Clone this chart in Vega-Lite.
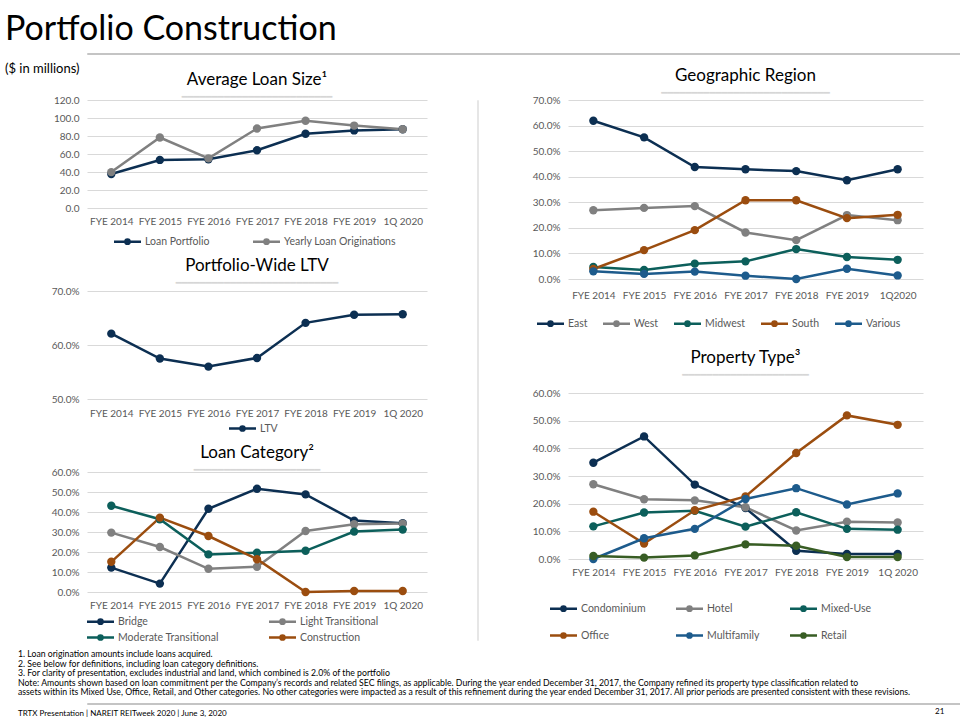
{
  "$schema": "https://vega.github.io/schema/vega-lite/v6.json",
  "padding": {"left": 5, "top": 12, "right": 5, "bottom": 2},
  "title": {"text": "21", "orient": "bottom", "anchor": "start", "font": "Lato", "fontSize": 8, "fontWeight": "normal", "color": "#000000", "offset": -10, "dx": 930},
  "resolve": {"scale": {"color": "independent", "x": "independent", "y": "independent"}},
  "config": {
    "font": "Lato",
    "view": {"stroke": null},
    "axis": {"labelFont": "Lato", "labelFontSize": 10, "labelColor": "#595959", "domain": false, "ticks": false, "title": null, "gridColor": "#d9d9d9"},
    "axisX": {"grid": false, "labelAngle": 0, "labelPadding": 8},
    "axisY": {"labelPadding": 8, "grid": true},
    "legend": {"orient": "bottom", "title": null, "direction": "horizontal", "labelFont": "Lato", "labelFontSize": 10.5, "labelColor": "#595959", "symbolType": "M-2.25,0H2.25M0.35,0A0.35,0.35,0,1,1,-0.35,0A0.35,0.35,0,1,1,0.35,0", "symbolSize": 144, "symbolStrokeWidth": 2.5, "labelOffset": 10, "columnPadding": 10},
    "title": {"font": "Lato", "fontSize": 17, "fontWeight": "normal", "color": "#000000", "subtitleFont": "DejaVu Sans", "subtitleColor": "#d6d6d6", "subtitleFontSize": 10, "subtitlePadding": 0},
    "line": {"strokeWidth": 2.5},
    "point": {"filled": true, "size": 70, "opacity": 1}
  },
  "datasets": {
    "avg": [
      {"period": "FYE 2014", "series": "Loan Portfolio", "value": 37.8},
      {"period": "FYE 2015", "series": "Loan Portfolio", "value": 53.4},
      {"period": "FYE 2016", "series": "Loan Portfolio", "value": 54.1},
      {"period": "FYE 2017", "series": "Loan Portfolio", "value": 64.2},
      {"period": "FYE 2018", "series": "Loan Portfolio", "value": 82.5},
      {"period": "FYE 2019", "series": "Loan Portfolio", "value": 86.2},
      {"period": "1Q 2020", "series": "Loan Portfolio", "value": 87.5},
      {"period": "FYE 2014", "series": "Yearly Loan Originations", "value": 39.9},
      {"period": "FYE 2015", "series": "Yearly Loan Originations", "value": 78.3},
      {"period": "FYE 2016", "series": "Yearly Loan Originations", "value": 55.2},
      {"period": "FYE 2017", "series": "Yearly Loan Originations", "value": 88.3},
      {"period": "FYE 2018", "series": "Yearly Loan Originations", "value": 96.9},
      {"period": "FYE 2019", "series": "Yearly Loan Originations", "value": 91.6},
      {"period": "1Q 2020", "series": "Yearly Loan Originations", "value": 87.5}
    ],
    "ltv": [
      {"period": "FYE 2014", "series": "LTV", "value": 62.1},
      {"period": "FYE 2015", "series": "LTV", "value": 57.5},
      {"period": "FYE 2016", "series": "LTV", "value": 56.0},
      {"period": "FYE 2017", "series": "LTV", "value": 57.6},
      {"period": "FYE 2018", "series": "LTV", "value": 64.1},
      {"period": "FYE 2019", "series": "LTV", "value": 65.6},
      {"period": "1Q 2020", "series": "LTV", "value": 65.7}
    ],
    "cat": [
      {"period": "FYE 2014", "series": "Bridge", "value": 12.2},
      {"period": "FYE 2015", "series": "Bridge", "value": 4.2},
      {"period": "FYE 2016", "series": "Bridge", "value": 41.6},
      {"period": "FYE 2017", "series": "Bridge", "value": 51.6},
      {"period": "FYE 2018", "series": "Bridge", "value": 48.8},
      {"period": "FYE 2019", "series": "Bridge", "value": 35.7},
      {"period": "1Q 2020", "series": "Bridge", "value": 34.4},
      {"period": "FYE 2014", "series": "Light Transitional", "value": 29.7},
      {"period": "FYE 2015", "series": "Light Transitional", "value": 22.5},
      {"period": "FYE 2016", "series": "Light Transitional", "value": 11.6},
      {"period": "FYE 2017", "series": "Light Transitional", "value": 12.6},
      {"period": "FYE 2018", "series": "Light Transitional", "value": 30.5},
      {"period": "FYE 2019", "series": "Light Transitional", "value": 33.9},
      {"period": "1Q 2020", "series": "Light Transitional", "value": 34.2},
      {"period": "FYE 2014", "series": "Moderate Transitional", "value": 43.1},
      {"period": "FYE 2015", "series": "Moderate Transitional", "value": 36.4},
      {"period": "FYE 2016", "series": "Moderate Transitional", "value": 18.8},
      {"period": "FYE 2017", "series": "Moderate Transitional", "value": 19.6},
      {"period": "FYE 2018", "series": "Moderate Transitional", "value": 20.6},
      {"period": "FYE 2019", "series": "Moderate Transitional", "value": 30.2},
      {"period": "1Q 2020", "series": "Moderate Transitional", "value": 31.2},
      {"period": "FYE 2014", "series": "Construction", "value": 15.1},
      {"period": "FYE 2015", "series": "Construction", "value": 37.2},
      {"period": "FYE 2016", "series": "Construction", "value": 28.0},
      {"period": "FYE 2017", "series": "Construction", "value": 16.4},
      {"period": "FYE 2018", "series": "Construction", "value": 0.0},
      {"period": "FYE 2019", "series": "Construction", "value": 0.5},
      {"period": "1Q 2020", "series": "Construction", "value": 0.5}
    ],
    "geo": [
      {"period": "FYE 2014", "series": "East", "value": 61.9},
      {"period": "FYE 2015", "series": "East", "value": 55.4},
      {"period": "FYE 2016", "series": "East", "value": 43.8},
      {"period": "FYE 2017", "series": "East", "value": 42.9},
      {"period": "FYE 2018", "series": "East", "value": 42.2},
      {"period": "FYE 2019", "series": "East", "value": 38.6},
      {"period": "1Q2020", "series": "East", "value": 42.9},
      {"period": "FYE 2014", "series": "West", "value": 26.9},
      {"period": "FYE 2015", "series": "West", "value": 27.8},
      {"period": "FYE 2016", "series": "West", "value": 28.5},
      {"period": "FYE 2017", "series": "West", "value": 18.2},
      {"period": "FYE 2018", "series": "West", "value": 15.2},
      {"period": "FYE 2019", "series": "West", "value": 25.0},
      {"period": "1Q2020", "series": "West", "value": 23.0},
      {"period": "FYE 2014", "series": "Midwest", "value": 4.7},
      {"period": "FYE 2015", "series": "Midwest", "value": 3.5},
      {"period": "FYE 2016", "series": "Midwest", "value": 6.0},
      {"period": "FYE 2017", "series": "Midwest", "value": 6.9},
      {"period": "FYE 2018", "series": "Midwest", "value": 11.7},
      {"period": "FYE 2019", "series": "Midwest", "value": 8.6},
      {"period": "1Q2020", "series": "Midwest", "value": 7.5},
      {"period": "FYE 2014", "series": "South", "value": 3.9},
      {"period": "FYE 2015", "series": "South", "value": 11.3},
      {"period": "FYE 2016", "series": "South", "value": 19.1},
      {"period": "FYE 2017", "series": "South", "value": 30.8},
      {"period": "FYE 2018", "series": "South", "value": 30.8},
      {"period": "FYE 2019", "series": "South", "value": 23.8},
      {"period": "1Q2020", "series": "South", "value": 25.1},
      {"period": "FYE 2014", "series": "Various", "value": 3.0},
      {"period": "FYE 2015", "series": "Various", "value": 2.0},
      {"period": "FYE 2016", "series": "Various", "value": 2.9},
      {"period": "FYE 2017", "series": "Various", "value": 1.3},
      {"period": "FYE 2018", "series": "Various", "value": 0.0},
      {"period": "FYE 2019", "series": "Various", "value": 4.0},
      {"period": "1Q2020", "series": "Various", "value": 1.4}
    ],
    "prop": [
      {"period": "FYE 2014", "series": "Condominium", "value": 34.8},
      {"period": "FYE 2015", "series": "Condominium", "value": 44.3},
      {"period": "FYE 2016", "series": "Condominium", "value": 26.9},
      {"period": "FYE 2017", "series": "Condominium", "value": 18.4},
      {"period": "FYE 2018", "series": "Condominium", "value": 3.0},
      {"period": "FYE 2019", "series": "Condominium", "value": 1.8},
      {"period": "1Q 2020", "series": "Condominium", "value": 1.8},
      {"period": "FYE 2014", "series": "Hotel", "value": 27.0},
      {"period": "FYE 2015", "series": "Hotel", "value": 21.6},
      {"period": "FYE 2016", "series": "Hotel", "value": 21.2},
      {"period": "FYE 2017", "series": "Hotel", "value": 18.7},
      {"period": "FYE 2018", "series": "Hotel", "value": 10.3},
      {"period": "FYE 2019", "series": "Hotel", "value": 13.5},
      {"period": "1Q 2020", "series": "Hotel", "value": 13.2},
      {"period": "FYE 2014", "series": "Mixed-Use", "value": 11.8},
      {"period": "FYE 2015", "series": "Mixed-Use", "value": 16.8},
      {"period": "FYE 2016", "series": "Mixed-Use", "value": 17.4},
      {"period": "FYE 2017", "series": "Mixed-Use", "value": 11.7},
      {"period": "FYE 2018", "series": "Mixed-Use", "value": 16.9},
      {"period": "FYE 2019", "series": "Mixed-Use", "value": 10.9},
      {"period": "1Q 2020", "series": "Mixed-Use", "value": 10.6},
      {"period": "FYE 2014", "series": "Office", "value": 17.1},
      {"period": "FYE 2015", "series": "Office", "value": 5.6},
      {"period": "FYE 2016", "series": "Office", "value": 17.6},
      {"period": "FYE 2017", "series": "Office", "value": 22.6},
      {"period": "FYE 2018", "series": "Office", "value": 38.3},
      {"period": "FYE 2019", "series": "Office", "value": 51.9},
      {"period": "1Q 2020", "series": "Office", "value": 48.5},
      {"period": "FYE 2014", "series": "Multifamily", "value": 0.0},
      {"period": "FYE 2015", "series": "Multifamily", "value": 7.5},
      {"period": "FYE 2016", "series": "Multifamily", "value": 10.9},
      {"period": "FYE 2017", "series": "Multifamily", "value": 21.7},
      {"period": "FYE 2018", "series": "Multifamily", "value": 25.6},
      {"period": "FYE 2019", "series": "Multifamily", "value": 19.7},
      {"period": "1Q 2020", "series": "Multifamily", "value": 23.7},
      {"period": "FYE 2014", "series": "Retail", "value": 1.1},
      {"period": "FYE 2015", "series": "Retail", "value": 0.5},
      {"period": "FYE 2016", "series": "Retail", "value": 1.3},
      {"period": "FYE 2017", "series": "Retail", "value": 5.3},
      {"period": "FYE 2018", "series": "Retail", "value": 4.8},
      {"period": "FYE 2019", "series": "Retail", "value": 0.7},
      {"period": "1Q 2020", "series": "Retail", "value": 0.7}
    ]
  },
  "vconcat": [
    {
      "title": {"text": "TRTX Presentation | NAREIT REITweek 2020 | June 3, 2020", "orient": "bottom", "anchor": "start", "font": "Lato", "fontSize": 8, "fontWeight": "normal", "color": "#000000", "offset": 2, "dx": 13},
      "resolve": {"scale": {"color": "independent", "x": "independent", "y": "independent"}},
      "vconcat": [
        {
          "title": {"text": "Portfolio Construction", "subtitle": "($ in millions)", "anchor": "start", "font": "Lato", "fontSize": 34, "fontWeight": "normal", "color": "#000000", "subtitleFont": "Lato", "subtitleFontSize": 13, "subtitleColor": "#000000", "subtitlePadding": 16, "subtitleFontWeight": "normal", "offset": -27},
          "spacing": 8,
          "resolve": {"scale": {"color": "independent", "x": "independent", "y": "independent"}},
          "vconcat": [
            {"width": 950, "height": 1, "view": {"stroke": "#c4c4c4", "strokeWidth": 1}, "data": {"values": [{}]}, "mark": {"type": "point", "opacity": 0}, "encoding": {}},
            {
              "spacing": 0,
              "resolve": {"scale": {"color": "independent", "x": "independent", "y": "independent"}},
              "vconcat": [
                {
                  "title": {"text": ["1. Loan origination amounts include loans acquired.", "2. See below for definitions, including loan category definitions.", "3. For clarity of presentation, excludes industrial and land, which combined is 2.0% of the portfolio", "Note: Amounts shown based on loan commitment per the Company’s records and related SEC filings,  as applicable. During the year ended December 31, 2017, the Company refined its property type classification related to", "assets within its Mixed Use, Office, Retail, and Other categories. No other categories were impacted as a result of this refinement during the year ended December 31, 2017. All prior periods are presented consistent with these revisions."], "orient": "bottom", "anchor": "start", "font": "Lato", "fontSize": 8.7, "lineHeight": 9.6, "fontWeight": "normal", "color": "#000000", "offset": 5, "dx": 13},
                  "spacing": 45,
                  "resolve": {"scale": {"color": "independent", "x": "independent", "y": "independent"}},
                  "hconcat": [
                    {
                      "spacing": 8,
                      "resolve": {"scale": {"color": "independent", "x": "independent", "y": "independent"}},
                      "vconcat": [
                        {
                          "width": 340, "height": 108,
                          "title": {"text": "Average Loan Size¹", "subtitle": "━━━━━━━━━━━━━━━━━━━━━━━━━", "offset": -8},
                          "data": {"name": "avg"},
                          "mark": {"type": "line", "point": true},
                          "encoding": {
                            "x": {"field": "period", "type": "nominal", "scale": {"type": "point", "padding": 0.5, "domain": ["FYE 2014", "FYE 2015", "FYE 2016", "FYE 2017", "FYE 2018", "FYE 2019", "1Q 2020"]}},
                            "y": {"field": "value", "type": "quantitative", "scale": {"domain": [0, 120]}, "axis": {"values": [0, 20, 40, 60, 80, 100, 120], "format": ".1f", "minExtent": 82}},
                            "color": {"field": "series", "type": "nominal", "scale": {"domain": ["Loan Portfolio", "Yearly Loan Originations"], "range": ["#0c2f52", "#808080"]}, "legend": {"offset": 8, "columnPadding": 16, "symbolOffset": 33}}
                          }
                        },
                        {
                          "width": 340, "height": 108,
                          "title": {"text": "Portfolio-Wide LTV", "subtitle": "━━━━━━━━━━━━━━━━━━━━━━━━━━━", "offset": -3},
                          "data": {"name": "ltv"},
                          "mark": {"type": "line", "point": true},
                          "encoding": {
                            "x": {"field": "period", "type": "nominal", "scale": {"type": "point", "padding": 0.5, "domain": ["FYE 2014", "FYE 2015", "FYE 2016", "FYE 2017", "FYE 2018", "FYE 2019", "1Q 2020"]}, "axis": {"labelPadding": 9}},
                            "y": {"field": "value", "type": "quantitative", "scale": {"domain": [50, 70]}, "axis": {"values": [50, 60, 70], "labelExpr": "format(datum.value, '.1f') + '%'", "minExtent": 82}},
                            "color": {"field": "series", "type": "nominal", "scale": {"domain": ["LTV"], "range": ["#0c2f52"]}, "legend": {"offset": 3, "symbolOffset": 148}}
                          }
                        },
                        {
                          "width": 340, "height": 120,
                          "title": {"text": "Loan Category²", "subtitle": "━━━━━━━━━━━━━━━━━━━━━", "offset": -9},
                          "data": {"name": "cat"},
                          "mark": {"type": "line", "point": true},
                          "encoding": {
                            "x": {"field": "period", "type": "nominal", "scale": {"type": "point", "padding": 0.5, "domain": ["FYE 2014", "FYE 2015", "FYE 2016", "FYE 2017", "FYE 2018", "FYE 2019", "1Q 2020"]}},
                            "y": {"field": "value", "type": "quantitative", "scale": {"domain": [0, 60]}, "axis": {"values": [0, 10, 20, 30, 40, 50, 60], "labelExpr": "format(datum.value, '.1f') + '%'", "minExtent": 82}},
                            "color": {"field": "series", "type": "nominal", "scale": {"domain": ["Bridge", "Light Transitional", "Moderate Transitional", "Construction"], "range": ["#0c2f52", "#808080", "#0c5f5b", "#9b4d0f"]}, "legend": {"offset": 4, "columns": 2, "columnPadding": 45, "rowPadding": 1, "symbolOffset": 6}}
                          }
                        }
                      ]
                    },
                    {"width": 1, "height": 540, "view": {"stroke": "#e6e6e6", "strokeWidth": 1}, "data": {"values": [{}]}, "mark": {"type": "point", "opacity": 0}, "encoding": {}},
                    {
                      "spacing": 18,
                      "resolve": {"scale": {"color": "independent", "x": "independent", "y": "independent"}},
                      "vconcat": [
                        {
                          "width": 355, "height": 179,
                          "title": {"text": "Geographic Region", "subtitle": "━━━━━━━━━━━━━━━━━━━━━━━━━━━━", "offset": -4},
                          "data": {"name": "geo"},
                          "mark": {"type": "line", "point": true},
                          "encoding": {
                            "x": {"field": "period", "type": "nominal", "scale": {"type": "point", "padding": 0.5, "domain": ["FYE 2014", "FYE 2015", "FYE 2016", "FYE 2017", "FYE 2018", "FYE 2019", "1Q2020"]}, "axis": {"labelPadding": 11}},
                            "y": {"field": "value", "type": "quantitative", "scale": {"domain": [0, 70]}, "axis": {"values": [0, 10, 20, 30, 40, 50, 60, 70], "labelExpr": "format(datum.value, '.1f') + '%'", "minExtent": 40}},
                            "color": {"field": "series", "type": "nominal", "scale": {"domain": ["East", "West", "Midwest", "South", "Various"], "range": ["#0c2f52", "#808080", "#0c5f5b", "#9b4d0f", "#1d5b8c"]}, "legend": {"offset": 16, "symbolOffset": -25}}
                          }
                        },
                        {
                          "width": 355, "height": 166,
                          "title": {"text": "Property Type³", "subtitle": "━━━━━━━━━━━━━━━━━━━━━", "offset": 7},
                          "data": {"name": "prop"},
                          "mark": {"type": "line", "point": true},
                          "encoding": {
                            "x": {"field": "period", "type": "nominal", "scale": {"type": "point", "padding": 0.5, "domain": ["FYE 2014", "FYE 2015", "FYE 2016", "FYE 2017", "FYE 2018", "FYE 2019", "1Q 2020"]}},
                            "y": {"field": "value", "type": "quantitative", "scale": {"domain": [0, 60]}, "axis": {"values": [0, 10, 20, 30, 40, 50, 60], "labelExpr": "format(datum.value, '.1f') + '%'", "minExtent": 40}},
                            "color": {"field": "series", "type": "nominal", "scale": {"domain": ["Condominium", "Hotel", "Mixed-Use", "Office", "Multifamily", "Retail"], "range": ["#0c2f52", "#808080", "#0c5f5b", "#9b4d0f", "#1d5b8c", "#385d24"]}, "legend": {"offset": 24, "columns": 3, "columnPadding": 25, "rowPadding": 12, "symbolOffset": -12}}
                          }
                        }
                      ]
                    }
                  ]
                },
                {"width": 950, "height": 1, "view": {"stroke": "#c4c4c4", "strokeWidth": 1}, "data": {"values": [{}]}, "mark": {"type": "point", "opacity": 0}, "encoding": {}}
              ]
            }
          ]
        }
      ]
    }
  ]
}
